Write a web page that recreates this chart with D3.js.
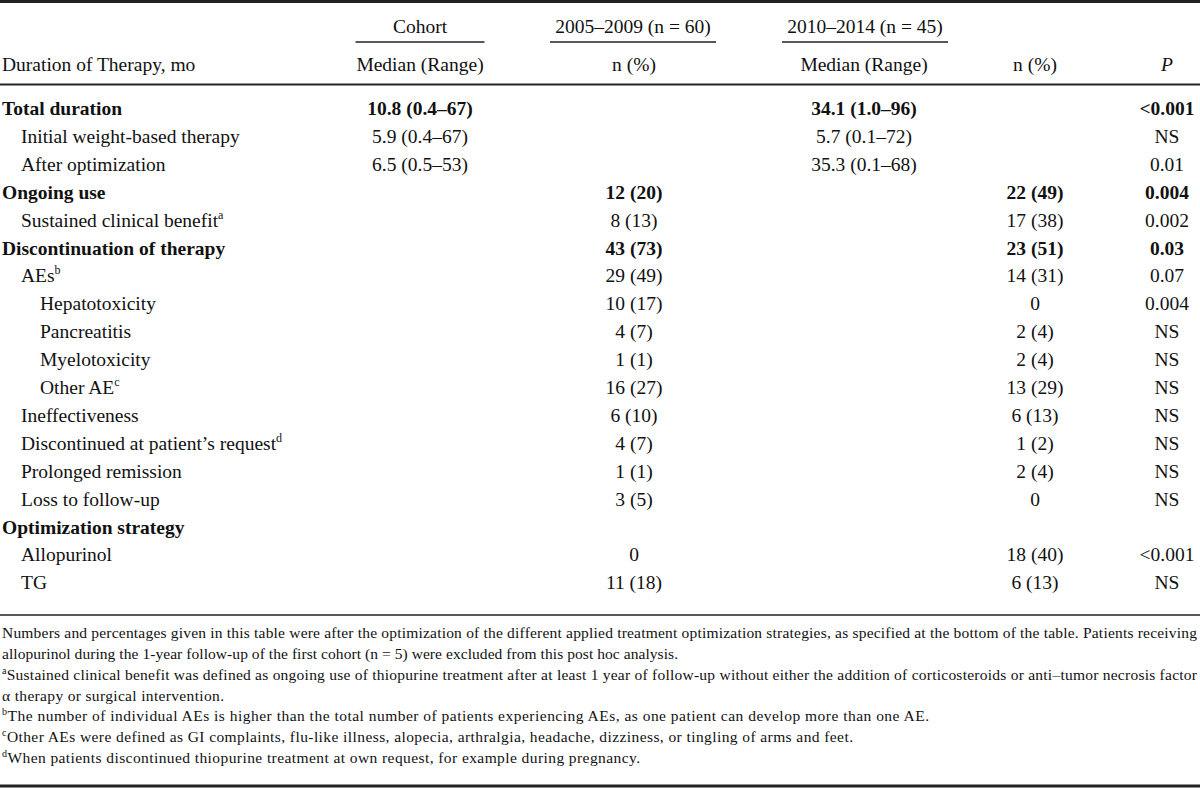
<!DOCTYPE html>
<html><head><meta charset="utf-8">
<script src="https://cdn.jsdelivr.net/npm/d3@7"></script>
<style>
html,body{margin:0;padding:0;background:#fff;}
svg{display:block;font-family:"Liberation Serif","Times New Roman",serif;}
</style></head>
<body><svg id="chart" width="1200" height="788"></svg>
<script>
// ---- data ----
const rowLabels = ["Total duration","Initial weight-based therapy","After optimization","Ongoing use","Sustained clinical benefit","Discontinuation of therapy","AEs","Hepatotoxicity","Pancreatitis","Myelotoxicity","Other AE","Ineffectiveness","Discontinued at patient\u2019s request","Prolonged remission","Loss to follow-up","Optimization strategy","Allopurinol","TG"];
const rowSup = ["","","","","a","","b","","","","c","","d","","","","",""];
const rowLevel = [0,1,1,0,1,0,1,2,2,2,2,1,1,1,1,0,1,1];
const rowBold = [true,false,false,true,false,true,false,false,false,false,false,false,false,false,false,true,false,false];
const cohortMedian = ["10.8 (0.4\u201367)","5.9 (0.4\u201367)","6.5 (0.5\u201353)","","","","","","","","","","","","","","",""];
const n2005 = ["","","","12 (20)","8 (13)","43 (73)","29 (49)","10 (17)","4 (7)","1 (1)","16 (27)","6 (10)","4 (7)","1 (1)","3 (5)","","0","11 (18)"];
const median2010 = ["34.1 (1.0\u201396)","5.7 (0.1\u201372)","35.3 (0.1\u201368)","","","","","","","","","","","","","","",""];
const n2010 = ["","","","22 (49)","17 (38)","23 (51)","14 (31)","0","2 (4)","2 (4)","13 (29)","6 (13)","1 (2)","2 (4)","0","","18 (40)","6 (13)"];
const pValues = ["<0.001","NS","0.01","0.004","0.002","0.03","0.07","0.004","NS","NS","NS","NS","NS","NS","NS","","<0.001","NS"];
const groupHeaders = ["Cohort","2005\u20132009 (n = 60)","2010\u20132014 (n = 45)"];
const subHeaders = ["Median (Range)","n (%)","Median (Range)","n (%)","P"];
const stubHeader = "Duration of Therapy, mo";
const footSup = ["","","a","","b","c","d"];
const footText = [
  "Numbers and percentages given in this table were after the optimization of the different applied treatment optimization strategies, as specified at the bottom of the table. Patients receiving",
  "allopurinol during the 1-year follow-up of the first cohort (n = 5) were excluded from this post hoc analysis.",
  "Sustained clinical benefit was defined as ongoing use of thiopurine treatment after at least 1 year of follow-up without either the addition of corticosteroids or anti\u2013tumor necrosis factor",
  "\u03b1 therapy or surgical intervention.",
  "The number of individual AEs is higher than the total number of patients experiencing AEs, as one patient can develop more than one AE.",
  "Other AEs were defined as GI complaints, flu-like illness, alopecia, arthralgia, headache, dizziness, or tingling of arms and feet.",
  "When patients discontinued thiopurine treatment at own request, for example during pregnancy."
];

// ---- layout ----
const svg = d3.select("#chart");
const W = 1200;
const fs = 19.5, fsFoot = 15.5;
const ink = "#111", rule = "#222";
// measured line widths of footnote lines in the reference (typeset extents)
const footWidth = [1195, 676, 1195, 222, 927, 851, 638];

const colKeys = ["cohort","n2005","med2010","n2010","p"];
const colX = d3.scaleOrdinal().domain(colKeys).range([420, 634, 864, 1035, 1167]);
const groupX = d3.scaleOrdinal().domain(groupHeaders).range([420, 633, 865]);
const groupW = d3.scaleOrdinal().domain(groupHeaders).range([129, 166, 166]);

const rowY = d3.scaleBand().domain(d3.range(rowLabels.length)).range([101, 101 + 27.9*rowLabels.length]).paddingInner(0);
const baseline = i => rowY(i) + 14;
const indent = d3.scaleOrdinal().domain([0,1,2]).range([2, 21, 40]);

// rules
const hline = (y, w) => svg.append("line").attr("x1",0).attr("x2",W).attr("y1",y).attr("y2",y).attr("stroke",rule).attr("stroke-width",w);
hline(1.5, 3);
hline(84.5, 1.8);
hline(615, 1.6);
hline(786, 3);

// group headers
groupHeaders.forEach(g => {
  svg.append("text").attr("x", groupX(g)).attr("y", 33).attr("text-anchor","middle")
    .attr("font-size", fs).attr("fill", ink).text(g);
  svg.append("line").attr("x1", groupX(g)-groupW(g)/2).attr("x2", groupX(g)+groupW(g)/2)
    .attr("y1", 42).attr("y2", 42).attr("stroke", rule).attr("stroke-width", 1.4);
});
// sub headers
svg.append("text").attr("x", 2).attr("y", 71).attr("font-size", fs).attr("fill", ink).text(stubHeader);
subHeaders.forEach((h,i) => {
  svg.append("text").attr("x", colX(colKeys[i])).attr("y", 71).attr("text-anchor","middle")
    .attr("font-size", fs).attr("fill", ink).attr("font-style", h==="P"?"italic":"normal").text(h);
});

// body rows
const rows = rowLabels.map((l,i) => ({label:l, sup:rowSup[i], level:rowLevel[i], bold:rowBold[i],
  vals:[cohortMedian[i], n2005[i], median2010[i], n2010[i], pValues[i]]}));

const rowG = svg.append("g").selectAll("g.row").data(rows).join("g").attr("class","row")
  .attr("transform",(d,i)=>`translate(0,${baseline(i)})`)
  .attr("font-weight", d => d.bold ? "bold" : "normal");

const lbl = rowG.append("text").attr("x", d => indent(d.level)).attr("y",0)
  .attr("font-size", fs).attr("fill", ink);
lbl.append("tspan").text(d => d.label);
lbl.filter(d => d.sup).append("tspan").attr("font-size", fs*0.62).attr("dy", -8).text(d => d.sup);

rowG.each(function(d){
  const sel = d3.select(this);
  d.vals.forEach((v,j) => {
    if (!v) return;
    sel.append("text").attr("x", colX(colKeys[j])).attr("y",0).attr("text-anchor","middle")
      .attr("font-size", fs).attr("fill", ink).text(v);
  });
});

// footnotes
const footY = d3.scaleLinear().domain([0, footText.length-1]).range([638, 763]);
footText.forEach((txt,i) => {
  const t = svg.append("text").attr("x", 2).attr("y", footY(i)).attr("font-size", fsFoot).attr("fill", ink)
    .attr("textLength", footWidth[i]).attr("lengthAdjust","spacing");
  if (footSup[i]) t.append("tspan").attr("font-size", fsFoot*0.65).attr("dy", -6).text(footSup[i]);
  t.append("tspan").attr("dy", footSup[i] ? 6 : 0).text(txt);
});
</script></body></html>
